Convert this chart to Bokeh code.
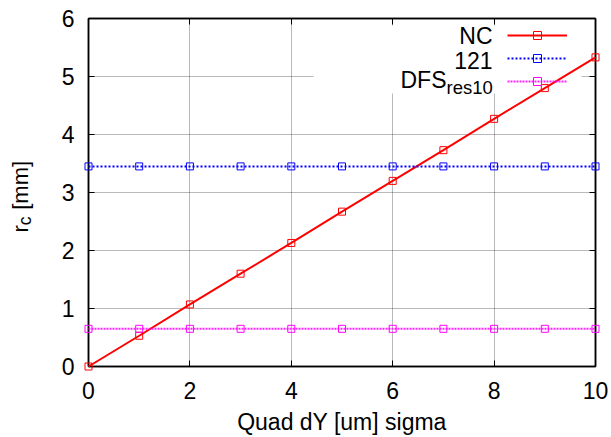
import math
from bokeh.plotting import figure
from bokeh.models import (Range1d, FixedTicker, LinearAxis, Legend, LegendItem, Label,
                          BoxAnnotation, CustomJSTickFormatter)
from bokeh.embed import file_html
from bokeh.resources import INLINE

# ---- data ----
x_sigma = [0, 1, 2, 3, 4, 5, 6, 7, 8, 9, 10]
nc_vals = [0.0, 0.53, 1.07, 1.60, 2.13, 2.67, 3.20, 3.73, 4.27, 4.80, 5.33]
v121_vals = [3.45, 3.45, 3.45, 3.45, 3.45, 3.45, 3.45, 3.45, 3.45, 3.45, 3.45]
dfs_vals = [0.65, 0.65, 0.65, 0.65, 0.65, 0.65, 0.65, 0.65, 0.65, 0.65, 0.65]
x_ticks = [0, 2, 4, 6, 8, 10]
y_ticks = [0, 1, 2, 3, 4, 5, 6]
series_names = ["NC", "121", "DFS"]
dfs_sub = "res10"
x_title = "Quad dY [um] sigma"
y_title_main = "r"
y_title_sub = "c"
y_title_unit = "[mm]"

FONT = "Liberation Sans"
FS = "23px"
SUB = "18.5px"

p = figure(width=611, height=437, x_range=Range1d(0, 10), y_range=Range1d(0, 6),
           output_backend="svg", toolbar_location=None,
           min_border_left=88, min_border_right=16, min_border_top=18, min_border_bottom=71,
           background_fill_color="white", border_fill_color="white")
p.outline_line_color = "black"
p.outline_line_width = 1.5


def style_axis(ax):
    ax.axis_line_color = "black"
    ax.axis_line_width = 1.5
    ax.major_tick_in = 6
    ax.major_tick_out = 0
    ax.major_tick_line_color = "black"
    ax.major_tick_line_width = 1
    ax.minor_tick_line_color = None
    ax.major_label_text_font = FONT
    ax.major_label_text_font_size = FS
    ax.major_label_text_color = "black"


for ax in p.xaxis:
    style_axis(ax)
    ax.ticker = FixedTicker(ticks=x_ticks)
    ax.major_label_text_line_height = 1.0
    ax.major_label_standoff = 15
    ax.axis_label = x_title
    ax.axis_label_text_font = FONT
    ax.axis_label_text_font_size = FS
    ax.axis_label_text_font_style = "normal"
    ax.axis_label_text_color = "black"
    ax.axis_label_text_line_height = 1.0
    ax.axis_label_standoff = 7
for ax in p.yaxis:
    style_axis(ax)
    ax.ticker = FixedTicker(ticks=y_ticks)
    ax.major_label_standoff = 14

empty = CustomJSTickFormatter(code="return ''")
top_ax = LinearAxis(ticker=FixedTicker(ticks=x_ticks), formatter=empty)
right_ax = LinearAxis(ticker=FixedTicker(ticks=y_ticks), formatter=empty)
for ax in (top_ax, right_ax):
    style_axis(ax)
    ax.major_label_text_font_size = "0px"
    ax.major_label_standoff = 0
p.add_layout(top_ax, "above")
p.add_layout(right_ax, "right")

p.xgrid.ticker = FixedTicker(ticks=x_ticks)
p.ygrid.ticker = FixedTicker(ticks=y_ticks)
for g in (p.xgrid[0], p.ygrid[0]):
    g.grid_line_color = "black"
    g.grid_line_alpha = 0.55
    g.grid_line_dash = "1 1"
    g.grid_line_width = 1

# key area mask (hides the grid behind the key, like gnuplot's key box)
mask = BoxAnnotation(left=225, right=493, bottom=273, top=341,
                     left_units="screen", right_units="screen",
                     bottom_units="screen", top_units="screen",
                     fill_color="white", fill_alpha=1.0, line_color=None)
p.add_layout(mask)

l1 = p.line(x_sigma, nc_vals, line_color="red", line_width=2, level="overlay")
s1 = p.scatter(x_sigma, nc_vals, marker="square", size=7, fill_color=None,
               line_color="red", line_width=1, level="overlay")
l2 = p.line(x_sigma, v121_vals, line_color="#0000ff", line_width=2, line_dash="2 2", level="overlay")
s2 = p.scatter(x_sigma, v121_vals, marker="square", size=7, fill_color=None,
               line_color="#0000ff", line_width=1, level="overlay")
l3 = p.line(x_sigma, dfs_vals, line_color="#ff00ff", line_width=2, line_dash="2 1",
            line_alpha=0.85, level="overlay")
s3 = p.scatter(x_sigma, dfs_vals, marker="square", size=7, fill_color=None,
               line_color="#ff00ff", line_width=1, level="overlay")

legend = Legend(items=[LegendItem(label=" ", renderers=[l1, s1]),
                       LegendItem(label=" ", renderers=[l2, s2]),
                       LegendItem(label=" ", renderers=[l3, s3])],
                location=(419, 275), orientation="vertical",
                glyph_width=60, glyph_height=20, spacing=3, padding=0, margin=0,
                label_standoff=0, label_width=0, label_height=20,
                label_text_font_size="1px",
                background_fill_alpha=0, border_line_color=None)
p.add_layout(legend)


def lab(text, x, y, size=FS, align="right", angle=0.0, units="screen"):
    return Label(x=x, y=y, x_units=units, y_units=units, text=text,
                 text_font=FONT, text_font_size=size, text_align=align,
                 text_baseline="alphabetic", text_color="black", angle=angle)


p.add_layout(lab(series_names[0], 404, 331))
p.add_layout(lab(series_names[1], 404, 306))
p.add_layout(lab(series_names[2], 358, 287))
p.add_layout(lab(dfs_sub, 358, 279.5, size=SUB, align="left"))

# y axis title r_c [mm] (placed in the left side panel so it is not clipped)
p.add_layout(lab(y_title_main + "\u2002\u2009" + y_title_unit, -1.351, 2.31, size="22px",
                 align="left", angle=math.pi / 2, units="data"), "left")
p.add_layout(lab(y_title_sub, -1.262, 2.436, size="17.5px",
                 align="left", angle=math.pi / 2, units="data"), "left")

open("out.html", "w").write(file_html(p, INLINE))
